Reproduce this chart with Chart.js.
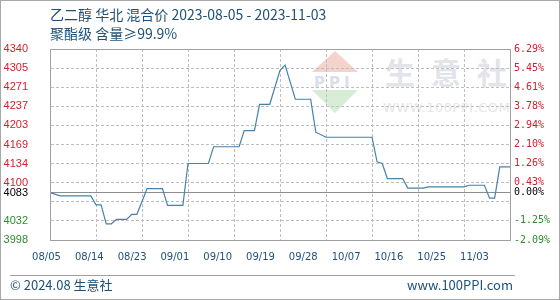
<!DOCTYPE html>
<html>
<head>
<meta charset="utf-8">
<script src="https://cdn.jsdelivr.net/npm/chart.js@4"></script>
<style>
body { margin: 0; background: #fff; }
#wrap { position: relative; width: 560px; height: 300px; overflow: hidden; font-family: "Noto Sans CJK SC", sans-serif; color: #1e5078; }
#frame { position: absolute; left: 0; top: 0; width: 558px; height: 298px; border: 1px solid #a8a8a8; }
#plotbox { position: absolute; left: 50px; top: 49px; width: 459px; height: 190px; border: 1px solid #a0a0a0; }
canvas { position: absolute; left: 0; top: 0; }
.t { position: absolute; white-space: nowrap; line-height: 1; }
.tri { position: absolute; width: 0; height: 0; }
</style>
</head>
<body>
<div id="wrap">
  <div id="frame"></div>
  <!-- watermark -->
  <div class="tri" style="left:312px;top:51px;border-left:23px solid transparent;border-right:23px solid transparent;border-bottom:21px solid #f5d3cd;"></div>
  <div class="tri" style="left:312px;top:90px;border-left:23px solid transparent;border-right:23px solid transparent;border-top:23px solid #d8edd8;"></div>
  <div class="t" style="left:314px;top:74px;font:bold 15px 'DejaVu Sans';letter-spacing:4px;color:#dadfea;">PPI</div>
  <div class="t" style="left:385px;top:56px;font-size:30px;font-weight:700;letter-spacing:16px;color:#e2e4ea;">生意社</div>
  <div class="t" style="left:383px;top:100px;font:13px 'DejaVu Sans';letter-spacing:0.5px;color:#e6e6e6;">WWW.100PPI.COM</div>

  <canvas id="c" width="560" height="300"></canvas>
  <div id="plotbox"></div>

  <div class="t" style="left:50px;top:7px;font-size:14px;">乙二醇 华北 混合价 2023-08-05 - 2023-11-03</div>
  <div class="t" style="left:50px;top:26px;font-size:14px;">聚酯级 含量≥99.9%</div>
  <div style="position:absolute;left:10px;top:275px;width:505px;height:1px;background:#a0a0a0;"></div>
  <div class="t" style="left:10px;top:278px;font-size:13px;">© 2024.08 生意社</div>
  <div class="t" style="right:47px;top:278px;font-size:13px;">www.100PPI.com</div>
</div>
<script>
// price turning points (2023)
var startDate = '08-05'
var pointDates = ['08-05','08-07','08-13','08-14','08-15','08-16','08-17','08-18','08-20','08-21',
  '08-22','08-24','08-27','08-28','08-31','09-01','09-05','09-06','09-11','09-12',
  '09-14','09-15','09-17','09-19','09-20','09-22','09-25','09-26','09-28','10-07',
  '10-08','10-09','10-10','10-13','10-14','10-17','10-18','10-25','10-26','10-29',
  '10-30','10-31','11-01','11-03']
var prices = [4083,4077,4077,4061,4061,4027,4027,4035,4035,4044,
  4044,4090,4090,4060,4060,4135,4135,4165,4165,4194,
  4194,4241,4241,4302,4311,4250,4250,4191,4182,4182,
  4138,4135,4108,4108,4091,4091,4093,4093,4096,4096,
  4073,4073,4129,4129]
var basePrice = 4083

var xLabels = ['08/05','08/14','08/23','09/01','09/10','09/19','09/28','10/07','10/16','10/25','11/03']
var yTickValues = [3998,4032.2,4066.4,4083,4100.6,4134.8,4169,4203.2,4237.4,4271.6,4305.8,4340]
var yTickLabels = ['3998','4032','','4083','4100','4134','4169','4203','4237','4271','4305','4340']
var pctLabels = ['-2.09%','-1.25%','','0.00%','0.43%','1.26%','2.10%','2.94%','3.78%','4.61%','5.45%','6.29%']

function dayOf(md) {
  var p = md.split('-'), s = startDate.split('-')
  return (Date.UTC(2023, p[0] - 1, +p[1]) - Date.UTC(2023, s[0] - 1, +s[1])) / 864e5
}
var lastDay = dayOf(pointDates[pointDates.length - 1])

var priceData = pointDates.map(function (d, i) { return { x: dayOf(d), y: prices[i] } })
var baseData = [{ x: 0, y: basePrice }, { x: lastDay, y: basePrice }]

function labelColor(c) {
  var v = c.tick ? c.tick.value : 0
  if (v === basePrice) return '#000'
  return v > basePrice ? '#d0202e' : '#2e8b2e'
}
function setYTicks(s) { s.ticks = yTickValues.map(function (v) { return { value: v } }) }

new Chart(document.getElementById('c'), {
  type: 'line',
  data: {
    datasets: [
      { data: priceData, borderColor: '#4682aa', borderWidth: 1.2, pointRadius: 0, tension: 0, fill: false },
      { data: baseData, borderColor: '#8c8c8c', borderWidth: 1, pointRadius: 0, fill: false }
    ]
  },
  options: {
    responsive: false,
    animation: false,
    devicePixelRatio: 1,
    layout: { padding: { top: 49, left: 0, right: 0, bottom: 0 } },
    plugins: { legend: { display: false }, tooltip: { enabled: false } },
    scales: {
      x: {
        type: 'linear', position: 'bottom', min: 0, max: lastDay,
        ticks: { display: false, stepSize: 9 },
        grid: { display: true, drawOnChartArea: true, color: 'rgb(190,190,190)', lineWidth: 1, drawTicks: false },
        border: { color: 'rgba(0,0,0,0)', dash: [3, 2] },
        afterFit: function (s) { s.height = 0 }
      },
      xl: {
        type: 'linear', position: 'bottom', min: 0.082, max: 10.83, bounds: 'data',
        afterBuildTicks: function (s) { s.ticks = xLabels.map(function (l, i) { return { value: i } }) },
        ticks: {
          autoSkip: false, maxRotation: 0, padding: 11, color: '#1e5078',
          font: { family: 'DejaVu Sans', size: 10 },
          callback: function (v, i) { return xLabels[i] }
        },
        grid: { display: false, drawTicks: false },
        border: { display: false },
        afterFit: function (s) { s.height = 60 }
      },
      y: {
        position: 'left', min: 3998, max: 4340,
        afterBuildTicks: setYTicks,
        ticks: {
          autoSkip: false, padding: 22, color: labelColor,
          font: { family: 'Liberation Sans', size: 11 },
          callback: function (v, i) { return yTickLabels[i] }
        },
        grid: {
          display: true, drawOnChartArea: true, lineWidth: 1, drawTicks: false,
          color: function (c) { return c.tick && c.tick.value === basePrice ? 'rgba(0,0,0,0)' : 'rgb(190,190,190)' }
        },
        border: { color: 'rgba(0,0,0,0)', dash: [3, 2] },
        afterFit: function (s) { s.width = 50 }
      },
      y2: {
        position: 'right', min: 3998, max: 4340,
        afterBuildTicks: setYTicks,
        ticks: {
          autoSkip: false, padding: 4, color: labelColor,
          font: { family: 'DejaVu Sans Mono', size: 10 },
          callback: function (v, i) { return pctLabels[i] }
        },
        grid: { display: false, drawTicks: false },
        border: { display: false },
        afterFit: function (s) { s.width = 50 }
      }
    }
  }
})
</script>
</body>
</html>
